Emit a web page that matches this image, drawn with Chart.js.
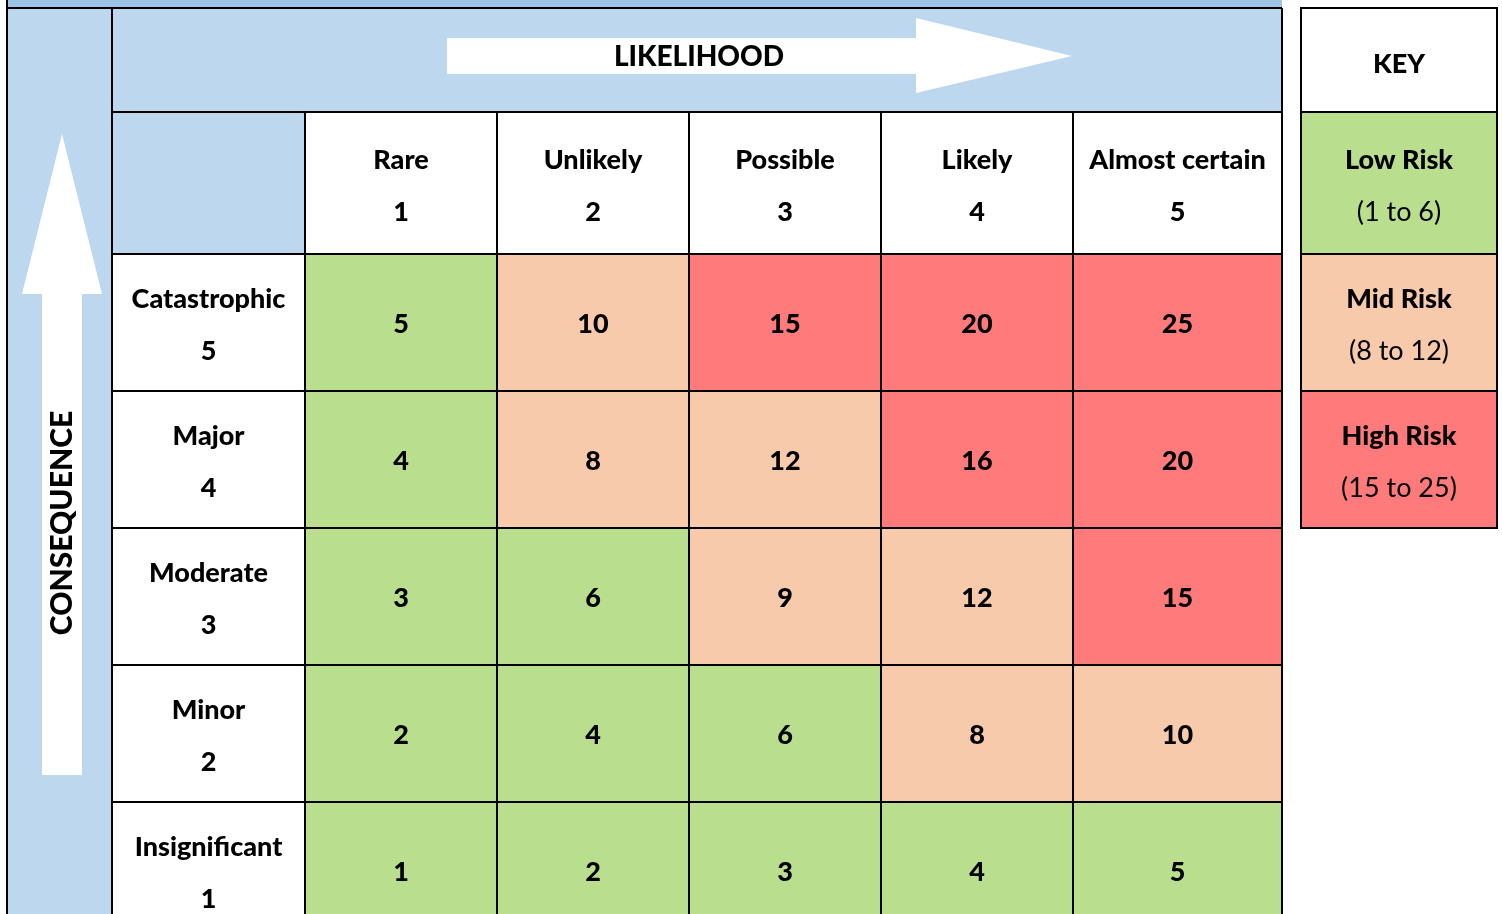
<!DOCTYPE html>
<html>
<head>
<meta charset="utf-8">
<title>Risk matrix</title>
<script src="https://cdn.jsdelivr.net/npm/chart.js@4.4.1/dist/chart.umd.min.js"></script>
<style>
  html, body { margin: 0; padding: 0; background: #fff; overflow: hidden; }
  #wrap { position: relative; width: 1502px; height: 950px; }
</style>
</head>
<body>
<div id="wrap"><canvas id="riskChart"></canvas></div>
<script>
const likelihoodLabels = ['Rare', 'Unlikely', 'Possible', 'Likely', 'Almost certain'];
const likelihoodRatings = [1, 2, 3, 4, 5];
const consequenceLabels = ['Catastrophic', 'Major', 'Moderate', 'Minor', 'Insignificant'];
const consequenceRatings = [5, 4, 3, 2, 1];

// risk score of each cell, one array per consequence row, left to right
const catastrophicScores = [5, 10, 15, 20, 25];
const majorScores = [4, 8, 12, 16, 20];
const moderateScores = [3, 6, 9, 12, 15];
const minorScores = [2, 4, 6, 8, 10];
const insignificantScores = [1, 2, 3, 4, 5];

const bandNames = ['Low Risk', 'Mid Risk', 'High Risk'];
const bandRanges = ['(1 to 6)', '(8 to 12)', '(15 to 25)'];
const bandMax = [6, 12, 25];

// look
const bandColors = ['#b9df8e', '#f7caac', '#ff7a7a'];
const blueFill = '#bdd7ee';
const stripFill = '#9dc3e6';
const FONT = 'Lato, "Open Sans", sans-serif';
const BOLD = `900 27px ${FONT}`;
const colWeights = [192, 192, 192, 192, 209]; // last column is a bit wider

const scoreRows = [catastrophicScores, majorScores, moderateScores, minorScores, insignificantScores];
const bandOf = s => bandMax.findIndex(m => s <= m);

// linear scale whose unit steps can have different widths
class WeightedScale extends Chart.LinearScale {
  getPixelForValue(value) {
    if (value === null || isNaN(value)) return NaN;
    const total = colWeights.reduce((a, b) => a + b, 0);
    const v = Math.min(Math.max(value - this.min, 0), colWeights.length);
    let acc = 0;
    let i = 0;
    while (i < colWeights.length - 1 && v >= i + 1) { acc += colWeights[i]; i++; }
    acc += (v - i) * colWeights[i];
    return this.getPixelForDecimal(acc / total);
  }
}
WeightedScale.id = 'weighted';
WeightedScale.defaults = Chart.LinearScale.defaults;
Chart.register(WeightedScale);

function text(ctx, s, x, y, font) {
  ctx.font = font;
  ctx.fillStyle = '#000';
  ctx.textAlign = 'center';
  ctx.textBaseline = 'middle';
  ctx.fillText(s, x, y);
}

function line(ctx, x0, y0, x1, y1) {
  ctx.beginPath();
  ctx.moveTo(x0, y0);
  ctx.lineTo(x1, y1);
  ctx.stroke();
}

function poly(ctx, pts) {
  ctx.beginPath();
  pts.forEach(([px, py], i) => (i ? ctx.lineTo(px, py) : ctx.moveTo(px, py)));
  ctx.closePath();
  ctx.fill();
}

function rowEdges(chart) {
  const y = chart.scales.y;
  const c0 = y.getPixelForValue(0);
  const h = y.getPixelForValue(1) - c0;
  const edges = consequenceLabels.map((_, i) => c0 + (i - 0.5) * h);
  edges.push(c0 + (consequenceLabels.length - 0.5) * h);
  return edges;
}

const matrixFrame = {
  id: 'matrixFrame',
  beforeDatasetsDraw(chart) {
    const { ctx, chartArea: a } = chart;
    const edges = rowEdges(chart);
    ctx.save();
    ctx.fillStyle = stripFill;
    ctx.fillRect(7, 0, a.right - 7, 8);
    ctx.fillStyle = blueFill;
    ctx.fillRect(7, 8, 105, chart.height);
    ctx.fillRect(112, 8, a.right - 112, 104);
    ctx.fillRect(112, 112, a.left - 112, a.top - 112);

    // key fills
    ctx.fillStyle = bandColors[0];
    ctx.fillRect(1301, 112, 196, edges[0] - 112);
    ctx.fillStyle = bandColors[1];
    ctx.fillRect(1301, edges[0], 196, edges[1] - edges[0]);
    ctx.fillStyle = bandColors[2];
    ctx.fillRect(1301, edges[1], 196, edges[2] - edges[1]);

    // arrows
    ctx.fillStyle = '#fff';
    poly(ctx, [[447, 38], [916, 38], [916, 18], [1072, 56], [916, 93], [916, 74], [447, 74]]);
    poly(ctx, [[62, 134], [102, 294], [82, 294], [82, 775], [42, 775], [42, 294], [22, 294]]);
    ctx.restore();
  },
  afterDatasetsDraw(chart) {
    const { ctx, chartArea: a, scales: { x } } = chart;
    const edges = rowEdges(chart);
    const bottom = chart.height;
    ctx.save();
    ctx.strokeStyle = '#000';
    ctx.lineWidth = 2;
    line(ctx, 7, 8, a.right, 8);
    line(ctx, 7, 0, 7, bottom);
    line(ctx, 112, 8, 112, bottom);
    line(ctx, a.right, 8, a.right, bottom);
    line(ctx, 112, 112, a.right, 112);
    likelihoodRatings.concat([0]).forEach(v => {
      const px = x.getPixelForValue(v);
      line(ctx, px, 112, px, bottom);
    });
    edges.forEach(ey => line(ctx, 112, ey, a.right, ey));

    // key box
    ctx.strokeRect(1301, 8, 196, edges[2] - 8);
    line(ctx, 1301, 112, 1497, 112);
    line(ctx, 1301, edges[0], 1497, edges[0]);
    line(ctx, 1301, edges[1], 1497, edges[1]);

    // axis titles
    text(ctx, 'LIKELIHOOD', 699, 57, `900 28px ${FONT}`);
    ctx.save();
    ctx.translate(62, 523);
    ctx.rotate(-Math.PI / 2);
    text(ctx, 'CONSEQUENCE', 0, 0, `900 30px ${FONT}`);
    ctx.restore();

    // column headers
    const headMid = (112 + a.top) / 2;
    likelihoodLabels.forEach((name, i) => {
      const cx = (x.getPixelForValue(likelihoodRatings[i] - 1) + x.getPixelForValue(likelihoodRatings[i])) / 2;
      text(ctx, name, cx, headMid - 23, BOLD);
      text(ctx, String(likelihoodRatings[i]), cx, headMid + 29, BOLD);
    });

    // row headers
    const labelX = (112 + a.left) / 2;
    consequenceLabels.forEach((name, i) => {
      const cy = (edges[i] + edges[i + 1]) / 2;
      text(ctx, name, labelX, cy - 23, BOLD);
      text(ctx, String(consequenceRatings[i]), labelX, cy + 29, BOLD);
    });

    // cell scores
    chart.data.datasets.forEach((ds, di) => {
      chart.getDatasetMeta(di).data.forEach((bar, j) => {
        const p = bar.getProps(['x', 'y', 'base'], true);
        text(ctx, String(ds.data[j].score), (p.x + p.base) / 2, p.y + 2, BOLD);
      });
    });

    // key text
    text(ctx, 'KEY', 1399, 64, BOLD);
    const keyMids = [headMid, (edges[0] + edges[1]) / 2, (edges[1] + edges[2]) / 2];
    bandNames.forEach((name, i) => {
      text(ctx, name, 1399, keyMids[i] - 23, BOLD);
      text(ctx, bandRanges[i], 1399, keyMids[i] + 29, `27px ${FONT}`);
    });
    ctx.restore();
  }
};

const datasets = likelihoodLabels.map((name, c) => ({
  label: name,
  data: consequenceLabels.map((row, r) => ({
    x: [likelihoodRatings[c] - 1, likelihoodRatings[c]],
    y: row,
    score: scoreRows[r][c]
  })),
  backgroundColor: ctx => (ctx.raw ? bandColors[bandOf(ctx.raw.score)] : '#fff'),
  borderWidth: 0,
  barPercentage: 1,
  categoryPercentage: 1,
  grouped: false
}));

new Chart(document.getElementById('riskChart'), {
  type: 'bar',
  data: { labels: consequenceLabels, datasets },
  options: {
    indexAxis: 'y',
    responsive: true,
    maintainAspectRatio: false,
    animation: false,
    layout: { padding: { left: 305, top: 254, right: 220, bottom: 11 } },
    plugins: { legend: { display: false }, tooltip: { enabled: false } },
    scales: {
      x: { type: 'weighted', min: 0, max: 5, display: false },
      y: { type: 'category', labels: consequenceLabels, display: false }
    }
  },
  plugins: [matrixFrame]
});
</script>
</body>
</html>
